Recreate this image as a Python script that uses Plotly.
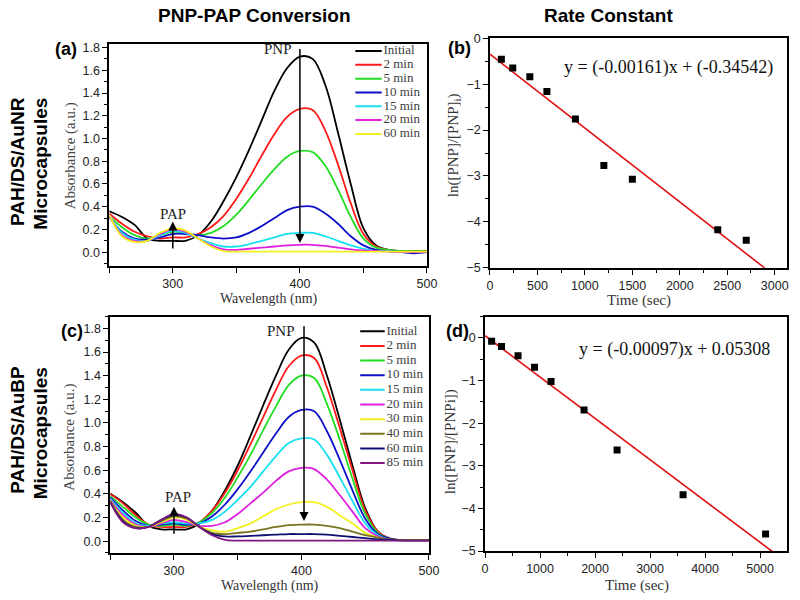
import plotly.graph_objects as go

# ---------------- data ----------------
wavelength = [250, 260, 270, 280, 290, 300, 310, 320, 330, 340, 350, 360, 370,
              380, 390, 400, 410, 420, 430, 440, 450, 460, 470, 480, 490, 500]

a_labels = ["Initial", "2 min", "5 min", "10 min", "15 min", "20 min", "60 min"]
a_colors = ["#000000", "#ff1a1a", "#22dd22", "#1010c8", "#18e0f0", "#e020e0", "#f4f020"]
a_initial = [0.36, 0.31, 0.24, 0.12, 0.10, 0.10, 0.10, 0.15, 0.27, 0.45, 0.66, 0.90, 1.16,
             1.42, 1.62, 1.72, 1.70, 1.47, 1.05, 0.60, 0.21, 0.06, 0.02, 0.01, 0.01, 0.01]
a_2min = [0.34, 0.25, 0.18, 0.14, 0.12, 0.13, 0.13, 0.16, 0.22, 0.32, 0.47, 0.65, 0.85,
          1.04, 1.19, 1.26, 1.25, 1.07, 0.77, 0.43, 0.16, 0.05, 0.02, 0.01, 0.01, 0.01]
a_5min = [0.32, 0.22, 0.15, 0.12, 0.15, 0.18, 0.17, 0.15, 0.17, 0.23, 0.33, 0.46, 0.60,
          0.73, 0.84, 0.89, 0.88, 0.76, 0.55, 0.31, 0.12, 0.04, 0.02, 0.01, 0.01, 0.01]
a_10min = [0.31, 0.18, 0.12, 0.11, 0.13, 0.16, 0.16, 0.15, 0.13, 0.12, 0.13, 0.17, 0.23,
           0.30, 0.37, 0.40, 0.40, 0.34, 0.25, 0.14, 0.06, 0.02, 0.01, 0.00, -0.01, 0.00]
a_15min = [0.33, 0.17, 0.11, 0.10, 0.15, 0.19, 0.17, 0.12, 0.08, 0.05, 0.05, 0.07, 0.10,
           0.13, 0.16, 0.17, 0.17, 0.14, 0.10, 0.06, 0.03, 0.01, 0.01, 0.00, 0.00, 0.00]
a_20min = [0.33, 0.15, 0.10, 0.10, 0.16, 0.20, 0.18, 0.12, 0.06, 0.025, 0.02, 0.03, 0.04,
           0.05, 0.06, 0.065, 0.065, 0.055, 0.04, 0.025, 0.015, 0.01, 0.005, 0.0, 0.0, 0.0]
a_60min = [0.33, 0.14, 0.09, 0.10, 0.17, 0.21, 0.19, 0.12, 0.05, 0.01, 0.005, 0.005, 0.005,
           0.005, 0.005, 0.005, 0.005, 0.005, 0.005, 0.005, 0.005, 0.005, 0.005, 0.005, 0.005, 0.005]
a_series = [a_initial, a_2min, a_5min, a_10min, a_15min, a_20min, a_60min]

c_labels = ["Initial", "2 min", "5 min", "10 min", "15 min", "20 min", "30 min",
            "40 min", "60 min", "85 min"]
c_colors = ["#000000", "#ff1a1a", "#22dd22", "#1010c8", "#18e0f0", "#e020e0",
            "#f4f020", "#7a7420", "#101070", "#801880"]
c_initial = [0.40, 0.33, 0.24, 0.13, 0.10, 0.10, 0.10, 0.15, 0.26, 0.43, 0.64, 0.89, 1.15,
             1.40, 1.62, 1.72, 1.68, 1.40, 1.03, 0.64, 0.28, 0.08, 0.02, 0.01, 0.01, 0.01]
c_2min = [0.40, 0.32, 0.22, 0.14, 0.12, 0.12, 0.12, 0.16, 0.26, 0.41, 0.60, 0.82, 1.05,
          1.28, 1.48, 1.57, 1.55, 1.30, 0.96, 0.60, 0.26, 0.08, 0.02, 0.01, 0.01, 0.01]
c_5min = [0.38, 0.29, 0.20, 0.14, 0.13, 0.14, 0.13, 0.16, 0.24, 0.37, 0.54, 0.73, 0.94,
          1.14, 1.32, 1.40, 1.38, 1.16, 0.86, 0.53, 0.23, 0.07, 0.02, 0.01, 0.01, 0.01]
c_10min = [0.37, 0.26, 0.17, 0.13, 0.14, 0.15, 0.14, 0.15, 0.21, 0.31, 0.44, 0.59, 0.75,
           0.91, 1.05, 1.11, 1.10, 0.93, 0.69, 0.43, 0.19, 0.06, 0.02, 0.01, 0.01, 0.01]
c_15min = [0.36, 0.24, 0.15, 0.13, 0.15, 0.16, 0.15, 0.15, 0.18, 0.25, 0.35, 0.46, 0.59,
           0.72, 0.83, 0.87, 0.86, 0.73, 0.54, 0.34, 0.15, 0.05, 0.01, 0.01, 0.01, 0.01]
c_20min = [0.35, 0.22, 0.14, 0.12, 0.15, 0.18, 0.16, 0.13, 0.13, 0.16, 0.23, 0.32, 0.41,
           0.51, 0.59, 0.62, 0.61, 0.52, 0.39, 0.25, 0.11, 0.04, 0.01, 0.01, 0.01, 0.01]
c_30min = [0.34, 0.20, 0.13, 0.12, 0.16, 0.20, 0.18, 0.12, 0.09, 0.08, 0.11, 0.15, 0.21,
           0.27, 0.31, 0.33, 0.33, 0.29, 0.22, 0.15, 0.07, 0.03, 0.01, 0.01, 0.01, 0.01]
c_40min = [0.34, 0.18, 0.12, 0.12, 0.17, 0.21, 0.19, 0.12, 0.07, 0.06, 0.07, 0.08, 0.10,
           0.12, 0.135, 0.14, 0.14, 0.13, 0.11, 0.08, 0.05, 0.03, 0.015, 0.01, 0.01, 0.01]
c_60min = [0.33, 0.17, 0.11, 0.12, 0.18, 0.22, 0.20, 0.12, 0.06, 0.04, 0.04, 0.045, 0.05,
           0.055, 0.06, 0.06, 0.06, 0.055, 0.045, 0.035, 0.025, 0.015, 0.01, 0.005, 0.005, 0.005]
c_85min = [0.33, 0.16, 0.11, 0.12, 0.18, 0.23, 0.20, 0.12, 0.05, 0.01, 0.005, 0.005, 0.005,
           0.005, 0.005, 0.005, 0.005, 0.005, 0.005, 0.005, 0.005, 0.005, 0.005, 0.005, 0.005, 0.005]
c_series = [c_initial, c_2min, c_5min, c_10min, c_15min, c_20min, c_30min,
            c_40min, c_60min, c_85min]

b_time = [120, 240, 420, 600, 900, 1200, 1500, 2400, 2700]
b_lnratio = [-0.46, -0.65, -0.84, -1.16, -1.76, -2.77, -3.07, -4.17, -4.40]
b_slope, b_intercept = -0.00161, -0.34542
b_fit_x = [0, 3130]

d_time = [120, 300, 600, 900, 1200, 1800, 2400, 3600, 5100]
d_lnratio = [-0.08, -0.20, -0.42, -0.69, -1.02, -1.69, -2.63, -3.68, -4.60]
d_slope, d_intercept = -0.00097, 0.05308
d_fit_x = [0, 5490]

# ---------------- figure ----------------
fig = go.Figure()
SERIF = "Liberation Serif, Times New Roman, serif"
SANS = "Liberation Sans, Arial, sans-serif"

for lab, col, ys in zip(a_labels, a_colors, a_series):
    fig.add_trace(go.Scatter(x=wavelength, y=ys, mode="lines", name=lab,
                             line=dict(color=col, width=1.8, shape="spline", smoothing=1.0),
                             xaxis="x", yaxis="y", showlegend=False))
for lab, col, ys in zip(c_labels, c_colors, c_series):
    fig.add_trace(go.Scatter(x=wavelength, y=ys, mode="lines", name=lab,
                             line=dict(color=col, width=1.8, shape="spline", smoothing=1.0),
                             xaxis="x3", yaxis="y3", showlegend=False))

# rate constant panels
fig.add_trace(go.Scatter(x=b_fit_x, y=[b_slope * v + b_intercept for v in b_fit_x],
                         mode="lines", line=dict(color="#e01010", width=1.6),
                         xaxis="x2", yaxis="y2", showlegend=False))
fig.add_trace(go.Scatter(x=b_time, y=b_lnratio, mode="markers",
                         marker=dict(symbol="square", size=7, color="black"),
                         xaxis="x2", yaxis="y2", showlegend=False))
fig.add_trace(go.Scatter(x=d_fit_x, y=[d_slope * v + d_intercept for v in d_fit_x],
                         mode="lines", line=dict(color="#e01010", width=1.6),
                         xaxis="x4", yaxis="y4", showlegend=False))
fig.add_trace(go.Scatter(x=d_time, y=d_lnratio, mode="markers",
                         marker=dict(symbol="square", size=7, color="black"),
                         xaxis="x4", yaxis="y4", showlegend=False))

# hand-made legends on hidden axes
for labels, colors, xa, ya in [(a_labels, a_colors, "x5", "y5"), (c_labels, c_colors, "x6", "y6")]:
    for i, (lab, col) in enumerate(zip(labels, colors)):
        fig.add_trace(go.Scatter(x=[0, 1], y=[i, i], mode="lines",
                                 line=dict(color=col, width=2), xaxis=xa, yaxis=ya,
                                 showlegend=False, hoverinfo="skip"))
    fig.add_trace(go.Scatter(x=[1.07] * len(labels), y=list(range(len(labels))), mode="text",
                             text=labels, textposition="middle right",
                             textfont=dict(family=SERIF, size=13, color="#404040"),
                             xaxis=xa, yaxis=ya, showlegend=False, hoverinfo="skip"))

tickfont = dict(family=SANS, size=12.5, color="#222222")
common = dict(showline=True, mirror=True, linecolor="black", linewidth=1.5,
              ticks="outside", ticklen=5, tickwidth=1.2, tickcolor="black",
              showgrid=False, zeroline=False, tickfont=tickfont)

def px_x(p):
    return p / 800.0

def px_y(p):
    return 1 - p / 600.0

fig.update_layout(
    width=800, height=600, margin=dict(l=0, r=0, t=0, b=0),
    paper_bgcolor="white", plot_bgcolor="white", showlegend=False,
    xaxis=dict(domain=[px_x(108), px_x(431)], range=[250, 500], tickvals=[300, 400, 500],
               minor=dict(tickvals=[250, 350, 450], ticklen=5, ticks="outside", tickcolor="black"),
               anchor="y", **common),
    yaxis=dict(domain=[px_y(265), px_y(38)], range=[-0.12, 1.83], tick0=0, dtick=0.2,
               tickformat=".1f", minor=dict(dtick=0.1, ticklen=3, ticks="outside", tickcolor="black"),
               anchor="x", **common),
    xaxis2=dict(domain=[px_x(495), px_x(797)], range=[0, 3130], dtick=500,
                minor=dict(dtick=250, ticklen=3, ticks="outside", tickcolor="black"),
                anchor="y2", **common),
    yaxis2=dict(domain=[px_y(267), px_y(32)], range=[-5, 0], dtick=1,
                minor=dict(dtick=0.5, ticklen=3, ticks="outside", tickcolor="black"),
                anchor="x2", **common),
    xaxis3=dict(domain=[px_x(109), px_x(433)], range=[250, 500], tickvals=[300, 400, 500],
                minor=dict(tickvals=[250, 350, 450], ticklen=5, ticks="outside", tickcolor="black"),
                anchor="y3", **common),
    yaxis3=dict(domain=[px_y(559), px_y(317)], range=[-0.1, 1.9], tick0=0, dtick=0.2,
                tickformat=".1f", minor=dict(dtick=0.1, ticklen=3, ticks="outside", tickcolor="black"),
                anchor="x3", **common),
    xaxis4=dict(domain=[px_x(490), px_x(797)], range=[0, 5490], dtick=1000,
                minor=dict(dtick=500, ticklen=3, ticks="outside", tickcolor="black"),
                anchor="y4", **common),
    yaxis4=dict(domain=[px_y(557), px_y(317)], range=[-5, 0.5], dtick=1,
                minor=dict(dtick=0.5, ticklen=3, ticks="outside", tickcolor="black"),
                anchor="x4", **common),
    xaxis5=dict(domain=[px_x(358), px_x(428)], range=[0, 2.6], visible=False, anchor="y5"),
    yaxis5=dict(domain=[px_y(137), px_y(38)], range=[6.5, -0.5], visible=False, anchor="x5"),
    xaxis6=dict(domain=[px_x(363), px_x(432)], range=[0, 2.76], visible=False, anchor="y6"),
    yaxis6=dict(domain=[px_y(474.5), px_y(324.5)], range=[9.5, -0.5], visible=False, anchor="x6"),
)

ann = []
def paper_text(text, x, y, size, family=SANS, color="black", angle=0, bold=False):
    t = f"<b>{text}</b>" if bold else text
    ann.append(dict(text=t, x=px_x(x), y=px_y(y), xref="paper", yref="paper",
                    showarrow=False, textangle=angle, xanchor="center", yanchor="middle",
                    font=dict(family=family, size=size, color=color)))

# column titles
paper_text("PNP-PAP Conversion", 256, 9, 19, bold=True)
paper_text("Rate Constant", 616, 9, 19, bold=True)
# row titles
paper_text("PAH/DS/AuNR", 15, 158, 19, angle=-90, bold=True)
paper_text("Microcapsules", 38, 160, 19, angle=-90, bold=True)
paper_text("PAH/DS/AuBP", 15, 433, 19, angle=-90, bold=True)
paper_text("Microcapsules", 38, 436, 19, angle=-90, bold=True)
# panel letters
paper_text("(a)", 64, 43, 18, bold=True)
paper_text("(b)", 464, 42, 18, bold=True)
paper_text("(c)", 70, 332, 18, bold=True)
paper_text("(d)", 462, 332, 18, bold=True)
# axis titles
paper_text("Wavelength (nm)", 270, 299, 14, family=SERIF, color="#333333")
paper_text("Wavelength (nm)", 271, 593, 14, family=SERIF, color="#333333")
paper_text("Absorbance (a.u.)", 69, 152, 15, family=SERIF, color="#444444", angle=-90)
paper_text("Absorbance (a.u.)", 68, 440, 15, family=SERIF, color="#444444", angle=-90)
paper_text("Time (sec)", 646, 300, 15, family=SERIF, color="#333333")
paper_text("Time (sec)", 644, 592, 15, family=SERIF, color="#333333")
paper_text("ln([PNP]/[PNP]<sub>i</sub>)", 458, 142, 15, family=SERIF, color="#333333", angle=-90)
paper_text("ln([PNP]/[PNPi])", 455, 445, 15, family=SERIF, color="#333333", angle=-90)
# equations
paper_text("y = (-0.00161)x + (-0.34542)", 676, 62, 18, family=SERIF, color="#111111")
paper_text("y = (-0.00097)x + 0.05308", 683, 351, 18, family=SERIF, color="#111111")

# arrows in data coordinates
def arrow(xr, yr, x, y_head, y_tail):
    ann.append(dict(x=x, y=y_head, ax=x, ay=y_tail, xref=xr, yref=yr, axref=xr, ayref=yr,
                    text="", showarrow=True, arrowhead=2, arrowsize=1.2, arrowwidth=1.5,
                    arrowcolor="black"))

def data_text(xr, yr, x, y, text):
    ann.append(dict(x=x, y=y, xref=xr, yref=yr, text=text, showarrow=False,
                    xanchor="center", yanchor="middle",
                    font=dict(family=SERIF, size=15, color="#222222")))

arrow("x", "y", 400, 0.08, 1.80)
arrow("x", "y", 300, 0.27, 0.02)
data_text("x", "y", 383, 1.79, "PNP")
data_text("x", "y", 300, 0.34, "PAP")
arrow("x3", "y3", 402, 0.17, 1.83)
arrow("x3", "y3", 300, 0.29, 0.05)
data_text("x3", "y3", 384, 1.78, "PNP")
data_text("x3", "y3", 303, 0.37, "PAP")

fig.update_layout(annotations=ann)
fig.write_html("out.html", config={"displayModeBar": False},
               post_script="document.body.style.margin='0';")
